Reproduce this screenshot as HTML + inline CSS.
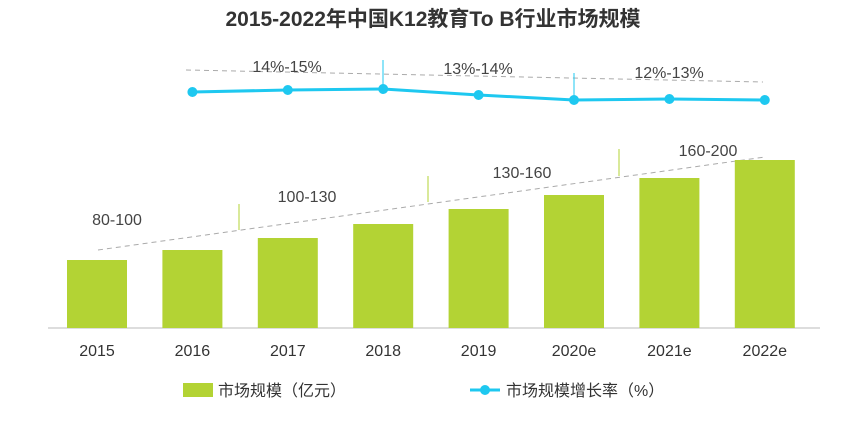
<!DOCTYPE html>
<html><head><meta charset="utf-8"><style>
body{margin:0;background:#fff;width:867px;height:416px;overflow:hidden}
svg text{font-family:"Liberation Sans","Noto Sans CJK SC",sans-serif}
</style></head><body>
<svg id="c" width="867" height="416">
<text x="433" y="26" text-anchor="middle" font-size="21" font-weight="bold" fill="#333">2015-2022年中国K12教育To B行业市场规模</text>
<line x1="48" y1="328" x2="820" y2="328" stroke="#bbb"/>
<line x1="98" y1="250" x2="765" y2="157" stroke="#aaa" stroke-dasharray="5,4"/>
<line x1="186" y1="70" x2="763" y2="82" stroke="#aaa" stroke-dasharray="5,4"/>
<line x1="239" y1="204" x2="239" y2="230" stroke="#b3d334"/>
<line x1="428" y1="176" x2="428" y2="202" stroke="#b3d334"/>
<line x1="619" y1="149" x2="619" y2="176" stroke="#b3d334"/>
<line x1="383" y1="60" x2="383" y2="89" stroke="#1ec8f0"/>
<line x1="574" y1="73" x2="574" y2="100" stroke="#1ec8f0"/>
<g font-size="16" fill="#444">
<text x="117" y="225" text-anchor="middle">80-100</text>
<text x="307" y="202" text-anchor="middle">100-130</text>
<text x="522" y="178" text-anchor="middle">130-160</text>
<text x="708" y="156" text-anchor="middle">160-200</text>
<text x="287" y="72" text-anchor="middle">14%-15%</text>
<text x="478" y="74" text-anchor="middle">13%-14%</text>
<text x="669" y="78" text-anchor="middle">12%-13%</text>
</g>
<g id="bars"></g><g id="line"></g><g id="xl"></g>
<rect x="183" y="383" width="30" height="14" fill="#b3d334"/>
<text x="218" y="396" font-size="16" fill="#333">市场规模（亿元）</text>
<line x1="470" y1="390" x2="500" y2="390" stroke="#1ec8f0" stroke-width="3"/>
<circle cx="485" cy="390" r="5" fill="#1ec8f0"/>
<text x="506" y="396" font-size="16" fill="#333">市场规模增长率（%）</text>
</svg>
<script>
const categories=["2015","2016","2017","2018","2019","2020e","2021e","2022e"];
const marketSize=[68,78,90,104,119,133,150,168];
const growthCats=["2016","2017","2018","2019","2020e","2021e","2022e"];
const growthRate=[14.5,14.7,14.8,14.2,13.7,13.8,13.7];
const NS="http://www.w3.org/2000/svg";
const xPos=i=>97+i*95.4;
const yBar=v=>328-v;
const yRate=v=>92-(v-14.5)*10;
function mk(t,a,p){const e=document.createElementNS(NS,t);for(const k in a)e.setAttribute(k,a[k]);p.appendChild(e);return e;}
const gb=document.getElementById('bars'),gl=document.getElementById('line'),gx=document.getElementById('xl');
categories.forEach((c,i)=>{
 const r=mk('rect',{x:xPos(i)-30,y:yBar(marketSize[i]),width:60,height:328-yBar(marketSize[i]),fill:'#b3d334'},gb);
 
 
 const t=mk('text',{x:xPos(i),y:356,'text-anchor':'middle','font-size':16,fill:'#333'},gx);
 t.textContent=c;
 
 
});
const pts=growthCats.map((c,i)=>[xPos(categories.indexOf(c)),yRate(growthRate[i])]);
const pl=mk('polyline',{points:pts.map(p=>p.join(',')).join(' '),fill:'none',stroke:'#1ec8f0','stroke-width':3},gl);


pts.forEach((p,i)=>{
 const d=mk('circle',{cx:p[0],cy:p[1],r:5,fill:'#1ec8f0'},gl);
 
 
});
</script>
</body></html>
